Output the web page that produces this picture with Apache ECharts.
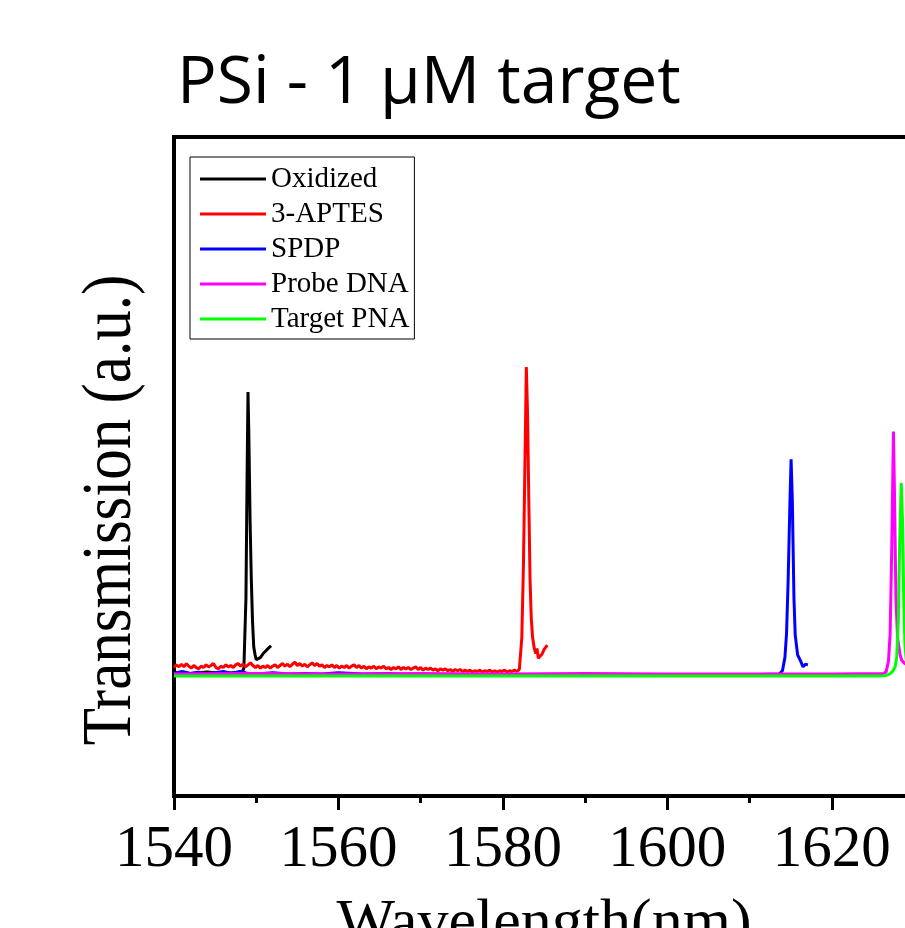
<!DOCTYPE html>
<html>
<head>
<meta charset="utf-8">
<script src="https://cdn.jsdelivr.net/npm/echarts@6/dist/echarts.min.js"></script>
<style>
  html, body { margin: 0; padding: 0; background: #fff; overflow: hidden; }
  #chart { width: 922px; height: 928px; }
</style>
</head>
<body>
<div id="chart"></div>
<script>
// wavelength (nm), transmission (a.u.)
var seriesNames = ['Oxidized', '3-APTES', 'SPDP', 'Probe DNA', 'Target PNA'];
var seriesColors = ['#000000', '#ff0000', '#0000ff', '#ff00ff', '#00ff00'];

var oxidized = [
  [1540, 18.7], [1542, 18.6], [1544, 18.8], [1546, 18.6], [1548.3, 18.8],
  [1548.5, 19.4], [1548.75, 30], [1548.9, 50], [1549.0, 61.3], [1549.1, 55],
  [1549.25, 42], [1549.4, 33], [1549.55, 26.5], [1549.7, 22.6], [1549.85, 21.5],
  [1550.0, 20.7], [1550.2, 20.4], [1550.5, 21.0], [1550.9, 21.7], [1551.3, 22.2],
  [1551.8, 22.8]
];

var aptes = [
  [1540, 19.5], [1540.3, 19.9], [1540.6, 19.6], [1540.9, 20.0], [1541.2, 19.6],
  [1541.5, 20.1], [1541.8, 19.7], [1542.1, 19.4], [1542.4, 19.8], [1542.7, 19.5],
  [1543.0, 19.3], [1543.3, 19.7], [1543.6, 19.5], [1543.9, 19.9], [1544.2, 19.6],
  [1544.5, 19.8], [1544.8, 20.1], [1545.1, 19.5], [1545.4, 19.3], [1545.7, 19.7],
  [1546.0, 19.5], [1546.3, 19.9], [1546.6, 19.6], [1546.9, 19.8], [1547.2, 19.5],
  [1547.5, 19.9], [1547.8, 20.1], [1548.1, 19.7], [1548.4, 20.0], [1548.7, 19.6],
  [1549.0, 19.9], [1549.3, 20.2], [1549.6, 19.8], [1549.9, 19.5], [1550.2, 19.8],
  [1550.5, 19.4], [1550.8, 19.7], [1551.1, 19.5], [1551.4, 19.8], [1551.7, 19.4],
  [1552.0, 19.7], [1552.3, 19.9], [1552.6, 19.5], [1552.9, 19.8], [1553.2, 20.1],
  [1553.5, 19.7], [1553.8, 20.0], [1554.1, 19.6], [1554.4, 20.0], [1554.7, 20.3],
  [1555.0, 19.8], [1555.3, 20.1], [1555.6, 19.7], [1555.9, 20.0], [1556.2, 19.6],
  [1556.5, 19.9], [1556.8, 20.2], [1557.1, 19.8], [1557.4, 20.1], [1557.7, 19.7],
  [1558.0, 19.9], [1558.3, 19.5], [1558.6, 19.8], [1558.9, 19.6], [1559.2, 19.9],
  [1559.5, 19.5], [1559.8, 19.8], [1560.1, 19.4], [1560.4, 19.7], [1560.7, 19.5],
  [1561.0, 19.8], [1561.3, 19.4], [1561.6, 19.7], [1561.9, 19.9], [1562.2, 19.5],
  [1562.5, 19.8], [1562.8, 19.4], [1563.1, 19.7], [1563.4, 19.3], [1563.7, 19.6],
  [1564.0, 19.4], [1564.3, 19.7], [1564.6, 19.3], [1564.9, 19.6], [1565.2, 19.4],
  [1565.5, 19.7], [1565.8, 19.3], [1566.1, 19.5], [1566.4, 19.2], [1566.7, 19.5],
  [1567.0, 19.3], [1567.3, 19.6], [1567.6, 19.2], [1567.9, 19.5], [1568.2, 19.3],
  [1568.5, 19.5], [1568.8, 19.2], [1569.1, 19.4], [1569.4, 19.6], [1569.7, 19.2],
  [1570.0, 19.5], [1570.3, 19.1], [1570.6, 19.4], [1570.9, 19.2], [1571.2, 19.4],
  [1571.5, 19.1], [1571.8, 19.3], [1572.1, 19.0], [1572.4, 19.3], [1572.7, 19.1],
  [1573.0, 19.3], [1573.3, 19.0], [1573.6, 19.2], [1573.9, 18.9], [1574.2, 19.2],
  [1574.5, 19.0], [1574.8, 19.2], [1575.1, 18.9], [1575.4, 19.1], [1575.7, 18.9],
  [1576.0, 19.1], [1576.3, 18.8], [1576.6, 19.0], [1576.9, 18.9], [1577.2, 19.1],
  [1577.5, 18.8], [1577.8, 19.0], [1578.1, 18.9], [1578.4, 19.1], [1578.7, 18.8],
  [1579.0, 19.0], [1579.3, 18.8], [1579.6, 19.0], [1579.9, 18.9], [1580.2, 19.1],
  [1580.5, 18.8], [1580.8, 19.0], [1581.1, 18.9], [1581.4, 19.1], [1581.7, 18.9],
  [1582.0, 19.2], [1582.3, 24], [1582.5, 35], [1582.7, 52], [1582.85, 65.1],
  [1583.0, 58], [1583.15, 45], [1583.3, 33], [1583.45, 27], [1583.6, 24.2],
  [1583.8, 22.5], [1584.0, 21.6], [1584.15, 22.4], [1584.3, 20.9], [1584.5, 20.7],
  [1584.75, 21.5], [1585.0, 22.2], [1585.4, 22.9]
];

var spdp = [
  [1540, 18.6], [1541, 18.9], [1542, 18.6], [1543, 18.8], [1544, 18.5],
  [1545, 18.7], [1546, 18.9], [1547, 18.6], [1548, 18.9], [1549, 18.6],
  [1550, 18.5], [1552, 18.7], [1554, 18.5], [1556, 18.6], [1558, 18.5],
  [1560, 18.7], [1563, 18.5], [1566, 18.6], [1570, 18.4], [1580, 18.4],
  [1590, 18.3], [1600, 18.4], [1610, 18.4], [1613.6, 18.5], [1614.0, 19.0],
  [1614.3, 21], [1614.5, 24.7], [1614.7, 33], [1614.9, 44], [1615.05, 51.1],
  [1615.2, 45], [1615.4, 30], [1615.55, 24.5], [1615.7, 22.9], [1615.85, 21.4],
  [1616.0, 21.7], [1616.2, 20.5], [1616.5, 19.6], [1616.8, 20.0], [1617.1, 19.9]
];

var probe = [
  [1540, 18.5], [1550, 18.6], [1560, 18.5], [1570, 18.6], [1580, 18.5],
  [1590, 18.6], [1600, 18.5], [1610, 18.5], [1620, 18.5], [1626.3, 18.6],
  [1626.6, 18.8], [1626.9, 20.5], [1627.1, 24.7], [1627.3, 38], [1627.5, 55.3],
  [1627.65, 44], [1627.8, 30], [1628.0, 24], [1628.3, 21.5], [1628.5, 20.6],
  [1628.8, 20.2], [1629.2, 19.8], [1630, 19.2]
];

var target = [
  [1540, 18.2], [1550, 18.2], [1560, 18.2], [1570, 18.2], [1580, 18.2],
  [1590, 18.2], [1600, 18.2], [1610, 18.2], [1620, 18.2], [1626.0, 18.2],
  [1626.6, 18.3], [1627.0, 18.5], [1627.4, 18.9], [1627.7, 19.6], [1627.9, 21],
  [1628.1, 27], [1628.25, 38], [1628.45, 47.5], [1628.6, 42], [1628.75, 30],
  [1628.9, 23], [1629.1, 20], [1630, 19]
];

var seriesData = [oxidized, aptes, spdp, probe, target];

var xMin = 1540;
var xMax = 1630;

var serif = 'Liberation Serif, Times New Roman, serif';

var chart = echarts.init(document.getElementById('chart'));

var series = seriesNames.map(function (name, i) {
  return {
    name: name,
    type: 'line',
    xAxisIndex: 0,
    data: seriesData[i],
    symbol: 'none',
    animation: false,
    lineStyle: { color: seriesColors[i], width: 3 },
    itemStyle: { color: seriesColors[i] }
  };
});

chart.setOption({
  backgroundColor: '#fff',
  animation: false,
  title: {
    text: 'PSi - 1 μM target',
    left: 172,
    top: 46,
    textStyle: { fontFamily: 'Open Sans', fontSize: 66, fontWeight: 'normal', color: '#000' }
  },
  legend: {
    orient: 'vertical',
    left: 190,
    top: 157,
    padding: [7, 5, 5, 10],
    icon: 'rect',
    itemWidth: 66,
    itemHeight: 3,
    itemGap: 5,
    borderColor: '#000',
    borderWidth: 1,
    data: seriesNames,
    textStyle: { fontFamily: serif, fontSize: 29, lineHeight: 30, color: '#000' }
  },
  grid: {
    left: 174,
    top: 137,
    right: 8,
    bottom: 132,
    show: true,
    borderColor: '#000',
    borderWidth: 4,
    containLabel: false,
    outerBoundsMode: 'none'
  },
  xAxis: [{
    type: 'value',
    position: 'bottom',
    min: xMin,
    max: xMax,
    interval: 10,
    axisLine: { show: true, lineStyle: { color: '#000', width: 4 } },
    axisTick: { show: true, length: 7, lineStyle: { color: '#000', width: 3 } },
    axisLabel: { show: false },
    splitLine: { show: false }
  }, {
    type: 'value',
    position: 'bottom',
    min: xMin,
    max: xMax,
    interval: 20,
    axisLine: { show: true, lineStyle: { color: '#000', width: 4 } },
    axisTick: { show: true, length: 14, lineStyle: { color: '#000', width: 3 } },
    axisLabel: {
      margin: 25,
      fontFamily: serif,
      fontSize: 59,
      color: '#000',
      formatter: function (v) { return v % 20 === 0 ? String(v) : ''; }
    },
    splitLine: { show: false },
    name: 'Wavelength(nm)',
    nameLocation: 'middle',
    nameGap: 98,
    nameTextStyle: { fontFamily: serif, fontSize: 62, color: '#000' }
  }],
  yAxis: {
    type: 'value',
    min: 0,
    max: 100,
    axisLine: { show: true, lineStyle: { color: '#000', width: 4 } },
    axisTick: { show: false },
    axisLabel: { show: false },
    splitLine: { show: false }
  },
  graphic: [{
    type: 'text',
    x: 112,
    y: 510,
    rotation: Math.PI / 2,
    scaleY: 1.15,
    style: {
      text: 'Transmission (a.u.)',
      fontFamily: serif,
      fontSize: 61,
      fill: '#000',
      align: 'center',
      verticalAlign: 'middle'
    }
  }],
  series: series
});
</script>
</body>
</html>
